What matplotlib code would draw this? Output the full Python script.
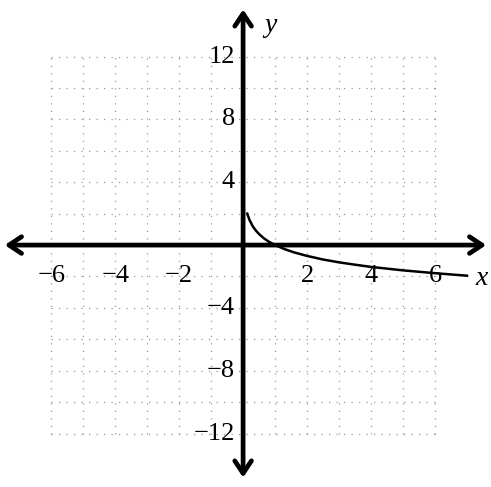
import numpy as np
import matplotlib.pyplot as plt

# curve points
curve_x = [0.13, 0.2, 0.3, 0.4, 0.5, 0.65, 0.8, 1.0, 1.3, 1.6, 2.0, 2.5, 3.0, 3.5, 4.0, 4.5, 5.0, 5.5, 6.0, 6.5, 7.0]
curve_y = [2.0, 1.6, 1.2, 0.92, 0.7, 0.43, 0.22, 0.0, -0.26, -0.47, -0.69, -0.92, -1.1, -1.25, -1.39, -1.5, -1.61, -1.7, -1.79, -1.87, -1.95]

x_ticks = [-6, -4, -2, 2, 4, 6]
y_ticks = [-12, -8, -4, 4, 8, 12]
grid_x = [-6, -5, -4, -3, -2, -1, 1, 2, 3, 4, 5, 6]
grid_y = [-12, -10, -8, -6, -4, -2, 2, 4, 6, 8, 10, 12]

plt.rcParams['font.family'] = ['Liberation Serif', 'DejaVu Serif']

fig = plt.figure(figsize=(4.91, 4.87), dpi=100)
ax = fig.add_axes([0, 0, 1, 1])
ax.set_xlim(-7.6, 7.75)
ax.set_ylim(-15.4, 15.6)
ax.axis('off')

grid_style = dict(color='#999999', lw=0.9, ls=(0, (1, 5)), zorder=1)
for gx in grid_x:
    ax.plot([gx, gx], [-12, 12], **grid_style)
for gy in grid_y:
    ax.plot([-6, 6], [gy, gy], **grid_style)

arrow = dict(arrowstyle='<->,head_length=0.9,head_width=0.6', lw=3.4, color='black',
             shrinkA=0, shrinkB=0)
ax.annotate('', xy=(7.6, 0), xytext=(-7.45, 0), arrowprops=arrow, zorder=3)
ax.annotate('', xy=(0, 15.0), xytext=(0, -14.8), arrowprops=arrow, zorder=3)

ax.plot(curve_x, curve_y, color='black', lw=1.8, zorder=4)

for t in x_ticks:
    lab = str(t).replace('-', '\u2212')
    ax.text(t, -2.0, lab, ha='center', va='center', fontsize=19, zorder=5)
for t in y_ticks:
    lab = str(t).replace('-', '\u2212')
    ax.text(-0.25, t, lab, ha='right', va='center', fontsize=19, zorder=5)

ax.text(0.85, 14.0, 'y', fontsize=20, style='italic', ha='center', va='center')
ax.text(7.45, -2.1, 'x', fontsize=20, style='italic', ha='center', va='center')

fig.savefig('out.png', dpi=100, facecolor='white')
